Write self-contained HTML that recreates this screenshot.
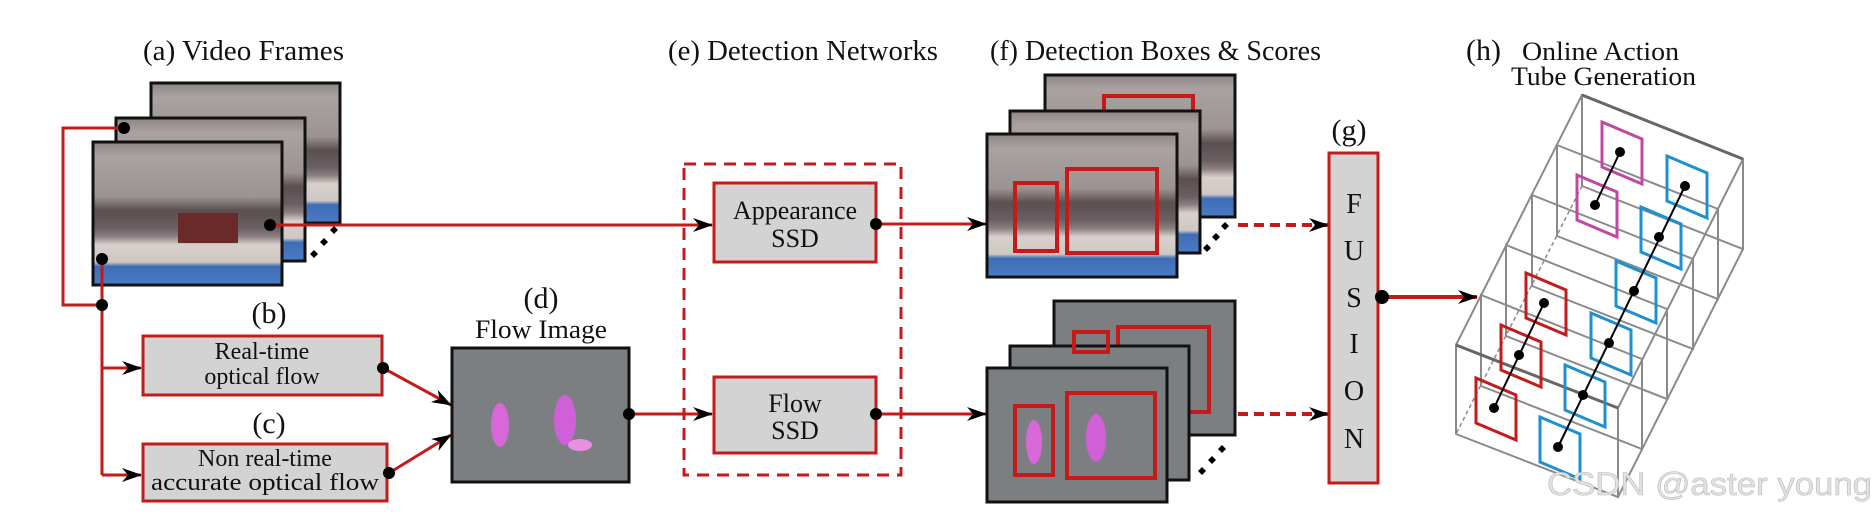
<!DOCTYPE html>
<html><head><meta charset="utf-8"><style>
html,body{margin:0;padding:0;background:#fff;}
svg{display:block}
text{font-family:"Liberation Serif",serif;fill:#111}
</style></head><body>
<svg width="1872" height="514" viewBox="0 0 1872 514" xmlns="http://www.w3.org/2000/svg">
<defs>
<linearGradient id="vid" x1="0" y1="0" x2="0" y2="1">
<stop offset="0" stop-color="#8e8684"/><stop offset="0.1" stop-color="#aaa2a0"/>
<stop offset="0.38" stop-color="#9c9492"/><stop offset="0.48" stop-color="#5a5050"/>
<stop offset="0.6" stop-color="#6a5e62"/><stop offset="0.66" stop-color="#8a7f80"/>
<stop offset="0.72" stop-color="#d8d0cc"/><stop offset="0.84" stop-color="#cfc7c2"/>
<stop offset="0.87" stop-color="#3d6db5"/><stop offset="1" stop-color="#4a7cc4"/>
</linearGradient>
<marker id="ah" viewBox="0 0 20 14" refX="19" refY="7" markerWidth="20" markerHeight="14" markerUnits="userSpaceOnUse" orient="auto">
<path d="M0,0 L20,7 L0,14 L6,7 Z" fill="#000"/></marker>
</defs>

<!-- labels -->
<text x="143" y="60" font-size="28" textLength="201" lengthAdjust="spacingAndGlyphs">(a) Video Frames</text>
<text x="668" y="60" font-size="28" textLength="270" lengthAdjust="spacingAndGlyphs">(e) Detection Networks</text>
<text x="990" y="60" font-size="28" textLength="331" lengthAdjust="spacingAndGlyphs">(f) Detection Boxes &amp; Scores</text>
<text x="1466" y="60" font-size="30">(h)</text>
<text x="1522" y="60" font-size="26" textLength="157" lengthAdjust="spacingAndGlyphs">Online Action</text>
<text x="1511" y="85" font-size="26" textLength="185" lengthAdjust="spacingAndGlyphs">Tube Generation</text>
<text x="1349" y="140" font-size="30" text-anchor="middle">(g)</text>
<text x="269" y="323" font-size="30" text-anchor="middle">(b)</text>
<text x="269" y="433" font-size="30" text-anchor="middle">(c)</text>
<text x="541" y="308" font-size="30" text-anchor="middle">(d)</text>
<text x="475" y="338" font-size="26" textLength="132" lengthAdjust="spacingAndGlyphs">Flow Image</text>

<!-- video frames -->
<rect x="151" y="83" width="189" height="140" fill="url(#vid)" stroke="#111" stroke-width="3"/>
<rect x="116" y="118" width="189" height="143" fill="url(#vid)" stroke="#111" stroke-width="3"/>
<rect x="93" y="142" width="189" height="143" fill="url(#vid)" stroke="#111" stroke-width="3"/>
<rect x="178" y="213" width="60" height="30" fill="#6a2a2a"/>
<g fill="#000"><path d="M334,226 l4,4 -4,4 -4,-4z M324,238 l4,4 -4,4 -4,-4z M314,250 l4,4 -4,4 -4,-4z"/></g>

<!-- red connectors left -->
<g stroke="#c41a1a" fill="none" stroke-width="3">
<polyline points="124,128 63,128 63,305 102,305"/>
<line x1="102" y1="259" x2="102" y2="475"/>
<line x1="102" y1="368" x2="141" y2="368" marker-end="url(#ah)"/>
<line x1="102" y1="475" x2="141" y2="475" marker-end="url(#ah)"/>
<line x1="270" y1="225" x2="712" y2="225" marker-end="url(#ah)"/>
<line x1="383" y1="368" x2="451" y2="405" marker-end="url(#ah)"/>
<line x1="389" y1="473" x2="451" y2="435" marker-end="url(#ah)"/>
<line x1="629" y1="414" x2="712" y2="414" marker-end="url(#ah)"/>
<line x1="876" y1="224" x2="986" y2="224" marker-end="url(#ah)"/>
<line x1="876" y1="414" x2="986" y2="414" marker-end="url(#ah)"/>
<line x1="1382" y1="297" x2="1477" y2="297" marker-end="url(#ah)" stroke-width="4"/>
<line x1="1238" y1="225" x2="1328" y2="225" stroke-dasharray="10,6" stroke-width="4" marker-end="url(#ah)"/>
<line x1="1238" y1="414" x2="1328" y2="414" stroke-dasharray="10,6" stroke-width="4" marker-end="url(#ah)"/>
</g>
<g fill="#000">
<circle cx="124" cy="128" r="6"/><circle cx="270" cy="225" r="6"/>
<circle cx="102" cy="259" r="6"/><circle cx="102" cy="305" r="6"/>
</g>

<!-- boxes b, c -->
<rect x="143" y="336" width="239" height="59" fill="#d3d3d3" stroke="#c41a1a" stroke-width="3"/>
<text x="262" y="359" font-size="24" text-anchor="middle">Real-time</text>
<text x="262" y="384" font-size="24" text-anchor="middle">optical flow</text>
<rect x="143" y="444" width="244" height="57" fill="#d3d3d3" stroke="#c41a1a" stroke-width="3"/>
<text x="265" y="466" font-size="24" text-anchor="middle">Non real-time</text>
<text x="151" y="490" font-size="24" textLength="228" lengthAdjust="spacingAndGlyphs">accurate optical flow</text>
<circle cx="383" cy="368" r="6" fill="#000"/><circle cx="389" cy="473" r="6" fill="#000"/>

<!-- flow image -->
<rect x="452" y="348" width="177" height="134" fill="#7b7f82" stroke="#111" stroke-width="3"/>
<ellipse cx="500" cy="425" rx="9" ry="22" fill="#d868d8"/>
<ellipse cx="565" cy="420" rx="11" ry="25" fill="#d060d8"/>
<ellipse cx="580" cy="445" rx="12" ry="6" fill="#e890e0"/>
<circle cx="629" cy="414" r="6" fill="#000"/>

<!-- detection networks -->
<rect x="684" y="164" width="217" height="311" fill="none" stroke="#c41a1a" stroke-width="3" stroke-dasharray="12,8"/>
<rect x="714" y="183" width="162" height="79" fill="#d3d3d3" stroke="#c41a1a" stroke-width="3"/>
<text x="795" y="219" font-size="26" text-anchor="middle">Appearance</text>
<text x="795" y="247" font-size="26" text-anchor="middle">SSD</text>
<rect x="714" y="377" width="162" height="76" fill="#d3d3d3" stroke="#c41a1a" stroke-width="3"/>
<text x="795" y="412" font-size="26" text-anchor="middle">Flow</text>
<text x="795" y="439" font-size="26" text-anchor="middle">SSD</text>
<circle cx="876" cy="224" r="6" fill="#000"/><circle cx="876" cy="414" r="6" fill="#000"/>

<!-- detection frames top -->
<rect x="1045" y="75" width="190" height="142" fill="url(#vid)" stroke="#111" stroke-width="3"/>
<rect x="1104" y="96" width="89" height="40" fill="none" stroke="#c41a1a" stroke-width="4"/>
<rect x="1010" y="111" width="190" height="142" fill="url(#vid)" stroke="#111" stroke-width="3"/>
<rect x="987" y="134" width="190" height="143" fill="url(#vid)" stroke="#111" stroke-width="3"/>
<rect x="1015" y="183" width="42" height="68" fill="none" stroke="#c41a1a" stroke-width="4"/>
<rect x="1067" y="169" width="90" height="84" fill="none" stroke="#c41a1a" stroke-width="4"/>
<g fill="#000"><path d="M1225,222 l4,4 -4,4 -4,-4z M1216,233 l4,4 -4,4 -4,-4z M1207,244 l4,4 -4,4 -4,-4z"/></g>

<!-- detection frames bottom -->
<rect x="1054" y="301" width="181" height="134" fill="#7b7f82" stroke="#111" stroke-width="3"/>
<rect x="1118" y="327" width="91" height="85" fill="none" stroke="#c41a1a" stroke-width="4"/>
<rect x="1010" y="346" width="179" height="134" fill="#7b7f82" stroke="#111" stroke-width="3"/>
<rect x="1074" y="332" width="34" height="20" fill="none" stroke="#c41a1a" stroke-width="4"/>
<rect x="987" y="368" width="180" height="134" fill="#7b7f82" stroke="#111" stroke-width="3"/>
<rect x="1015" y="406" width="38" height="69" fill="none" stroke="#c41a1a" stroke-width="4"/>
<rect x="1067" y="393" width="88" height="85" fill="none" stroke="#c41a1a" stroke-width="4"/>
<ellipse cx="1034" cy="442" rx="8" ry="22" fill="#d868d8"/>
<ellipse cx="1096" cy="438" rx="10" ry="24" fill="#d060d8"/>
<g fill="#000"><path d="M1222,445 l4,4 -4,4 -4,-4z M1212,456 l4,4 -4,4 -4,-4z M1202,467 l4,4 -4,4 -4,-4z"/></g>

<!-- fusion -->
<rect x="1329" y="153" width="49" height="330" fill="#d3d3d3" stroke="#c41a1a" stroke-width="3"/>
<g font-size="28" text-anchor="middle">
<text x="1354" y="213">F</text><text x="1354" y="260">U</text><text x="1354" y="307">S</text>
<text x="1354" y="353">I</text><text x="1354" y="400">O</text><text x="1354" y="448">N</text>
</g>
<circle cx="1382" cy="297" r="7" fill="#000"/>

<!-- tube -->
<g stroke="#8a8a8a" stroke-width="2" fill="none">
<path d="M1582,95 L1743,159 L1743,249 L1582,186 Z"/>
<path d="M1557,145 L1718,209 L1718,299 L1557,236 Z"/>
<path d="M1532,195 L1693,259 L1693,349 L1532,286 Z"/>
<path d="M1506,245 L1667,309 L1667,399 L1506,336 Z"/>
<path d="M1481,295 L1642,359 L1642,449 L1481,386 Z"/>
<path d="M1456,345 L1618,408 L1618,497 L1456,434 Z"/>
<line x1="1582" y1="95" x2="1456" y2="345"/>
<line x1="1743" y1="159" x2="1618" y2="408"/>
<line x1="1743" y1="249" x2="1618" y2="497"/>
<line x1="1582" y1="186" x2="1456" y2="434" stroke-dasharray="4,3" stroke-width="1.5"/>
<line x1="1582" y1="95" x2="1743" y2="159" stroke="#666" stroke-width="3"/>
<line x1="1456" y1="345" x2="1618" y2="408" stroke="#666" stroke-width="3"/>
</g>
<g fill="none" stroke-width="3">
<g stroke="#c048a0">
<path d="M1602,122 l40,17 v45 l-40,-17 z"/><path d="M1577,175 l40,17 v45 l-40,-17 z"/>
</g>
<g stroke="#1e90d0">
<path d="M1667,156 l40,17 v45 l-40,-17 z"/><path d="M1641,207 l40,17 v45 l-40,-17 z"/>
<path d="M1616,261 l40,17 v45 l-40,-17 z"/><path d="M1591,313 l40,17 v45 l-40,-17 z"/>
<path d="M1565,365 l40,17 v45 l-40,-17 z"/><path d="M1540,417 l40,17 v45 l-40,-17 z"/>
</g>
<g stroke="#c41a1a">
<path d="M1526,273 l40,17 v45 l-40,-17 z"/><path d="M1501,325 l40,17 v45 l-40,-17 z"/>
<path d="M1476,378 l40,17 v45 l-40,-17 z"/>
</g>
</g>
<g stroke="#000" stroke-width="2">
<line x1="1620" y1="152" x2="1595" y2="205"/>
<line x1="1685" y1="186" x2="1558" y2="447"/>
<line x1="1544" y1="303" x2="1494" y2="408"/>
</g>
<g fill="#000">
<circle cx="1620" cy="152" r="5"/><circle cx="1595" cy="205" r="5"/>
<circle cx="1685" cy="186" r="5"/><circle cx="1659" cy="237" r="5"/><circle cx="1634" cy="291" r="5"/>
<circle cx="1609" cy="343" r="5"/><circle cx="1583" cy="395" r="5"/><circle cx="1558" cy="447" r="5"/>
<circle cx="1544" cy="303" r="5"/><circle cx="1519" cy="355" r="5"/><circle cx="1494" cy="408" r="5"/>
</g>

<text x="1547" y="495" font-size="32" style="font-family:'Liberation Sans',sans-serif;fill:#e2e2e2" stroke="#bbb" stroke-width="0.6" textLength="325" lengthAdjust="spacingAndGlyphs">CSDN @aster young</text>
</svg>
</body></html>
